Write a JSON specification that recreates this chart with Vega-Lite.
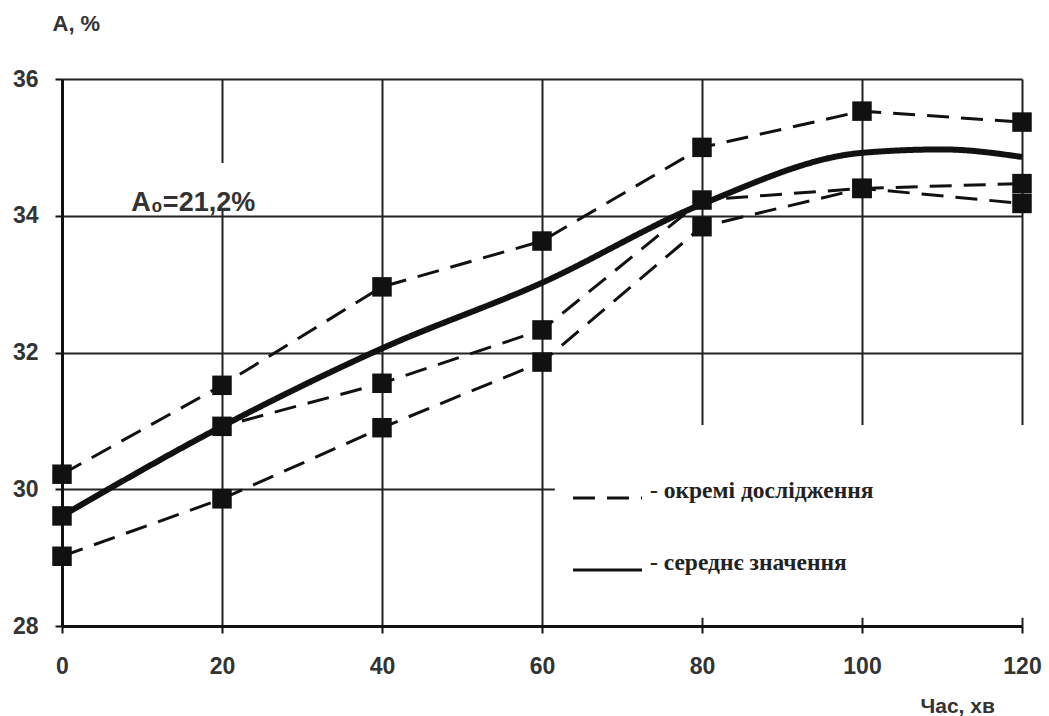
{
  "$schema": "https://vega.github.io/schema/vega-lite/v6.json",
  "width": 960,
  "height": 547,
  "autosize": {"type": "none"},
  "padding": {"left": 62, "top": 79, "right": 27, "bottom": 90},
  "background": "white",
  "config": {
    "view": {"stroke": null},
    "axis": {
      "grid": true,
      "gridColor": "#222",
      "gridWidth": 2,
      "gridOpacity": 1,
      "domainColor": "#111",
      "domainWidth": 3,
      "tickColor": "#111",
      "tickWidth": 2,
      "tickSize": 7,
      "labelFont": "Liberation Sans",
      "labelFontWeight": "bold",
      "labelFontSize": 23,
      "labelColor": "#333",
      "titleFont": "Liberation Sans",
      "titleFontWeight": "bold",
      "titleColor": "#333",
      "labelFlush": false,
      "format": "d"
    },
    "legend": {
      "orient": "none",
      "legendX": 509.5,
      "legendY": 383,
      "padding": 0,
      "rowPadding": 30,
      "symbolType": "stroke",
      "symbolSize": 4761,
      "symbolStrokeWidth": 3,
      "symbolStrokeColor": "#111",
      "labelFont": "Liberation Serif",
      "labelFontWeight": "bold",
      "labelFontSize": 23.5,
      "labelColor": "#222",
      "labelOffset": 6.5,
      "labelBaseline": "alphabetic",
      "labelLimit": 500
    }
  },
  "datasets": {
    "pts": [
      {"t": 0, "v": 30.22, "s": "A", "kind": "- окремі дослідження"},
      {"t": 20, "v": 31.52, "s": "A", "kind": "- окремі дослідження"},
      {"t": 40, "v": 32.96, "s": "A", "kind": "- окремі дослідження"},
      {"t": 60, "v": 33.63, "s": "A", "kind": "- окремі дослідження"},
      {"t": 80, "v": 35.0, "s": "A", "kind": "- окремі дослідження"},
      {"t": 100, "v": 35.53, "s": "A", "kind": "- окремі дослідження"},
      {"t": 120, "v": 35.37, "s": "A", "kind": "- окремі дослідження"},
      {"t": 0, "v": 29.02, "s": "B", "kind": "- окремі дослідження"},
      {"t": 20, "v": 29.86, "s": "B", "kind": "- окремі дослідження"},
      {"t": 40, "v": 30.9, "s": "B", "kind": "- окремі дослідження"},
      {"t": 60, "v": 31.86, "s": "B", "kind": "- окремі дослідження"},
      {"t": 80, "v": 33.84, "s": "B", "kind": "- окремі дослідження"},
      {"t": 100, "v": 34.4, "s": "B", "kind": "- окремі дослідження"},
      {"t": 120, "v": 34.18, "s": "B", "kind": "- окремі дослідження"},
      {"t": 0, "v": 29.61, "s": "C", "kind": "- окремі дослідження"},
      {"t": 20, "v": 30.92, "s": "C", "kind": "- окремі дослідження"},
      {"t": 40, "v": 31.55, "s": "C", "kind": "- окремі дослідження"},
      {"t": 60, "v": 32.33, "s": "C", "kind": "- окремі дослідження"},
      {"t": 80, "v": 34.23, "s": "C", "kind": "- окремі дослідження"},
      {"t": 100, "v": 34.4, "s": "C", "kind": "- окремі дослідження"},
      {"t": 120, "v": 34.47, "s": "C", "kind": "- окремі дослідження"},
      {"t": 0, "v": 29.61, "s": "M", "kind": "- середнє значення"},
      {"t": 20, "v": 30.92, "s": "M", "kind": "- середнє значення"},
      {"t": 40, "v": 32.06, "s": "M", "kind": "- середнє значення"},
      {"t": 60, "v": 33.02, "s": "M", "kind": "- середнє значення"},
      {"t": 80, "v": 34.17, "s": "M", "kind": "- середнє значення"},
      {"t": 100, "v": 34.92, "s": "M", "kind": "- середнє значення"},
      {"t": 110, "v": 34.97, "s": "M", "kind": "- середнє значення"},
      {"t": 120, "v": 34.86, "s": "M", "kind": "- середнє значення"}
    ]
  },
  "layer": [
    {
      "data": {"values": [{}]},
      "mark": {"type": "rect", "fill": "white"},
      "encoding": {
        "x": {"datum": 10, "type": "quantitative", "scale": {"domain": [0, 120], "nice": false},
          "axis": {"title": "Час, хв", "values": [0, 20, 40, 60, 80, 100, 120], "titleX": 858, "titleY": 86, "titleAlign": "left", "titleBaseline": "alphabetic", "titleFontSize": 21, "labelPadding": 22}},
        "x2": {"datum": 25},
        "y": {"datum": 34.07, "type": "quantitative", "scale": {"domain": [28, 36], "nice": false},
          "axis": {"title": "A, %", "values": [28, 30, 32, 34, 36], "titleAngle": 0, "titleX": -10, "titleY": -49, "titleAlign": "left", "titleBaseline": "alphabetic", "titleFontSize": 22, "labelPadding": 17}},
        "y2": {"datum": 34.77}
      }
    },
    {
      "data": {"values": [{}]},
      "mark": {"type": "rect", "fill": "white"},
      "encoding": {
        "x": {"datum": 61.6, "type": "quantitative"},
        "x2": {"datum": 121.5},
        "y": {"datum": 28.12, "type": "quantitative"},
        "y2": {"datum": 30.94}
      }
    },
    {
      "data": {"values": [{}]},
      "mark": {"type": "text", "text": "A₀=21,2%", "font": "Liberation Sans", "fontWeight": "bold", "fontSize": 27, "color": "#333", "align": "center", "baseline": "alphabetic"},
      "encoding": {
        "x": {"datum": 16.4, "type": "quantitative"},
        "y": {"datum": 34.07, "type": "quantitative"}
      }
    },
    {
      "data": {"name": "pts"},
      "transform": [{"filter": "datum.s !== 'M'"}],
      "mark": {"type": "line", "strokeWidth": 3, "color": "#111"},
      "encoding": {
        "x": {"field": "t", "type": "quantitative"},
        "y": {"field": "v", "type": "quantitative"},
        "detail": {"field": "s"},
        "strokeDash": {"field": "kind", "type": "nominal",
          "scale": {"domain": ["- окремі дослідження", "- середнє значення"], "range": [[22, 12], [1, 0]]},
          "legend": {"title": null,
            "symbolDashOffset": 0,
            "symbolStrokeWidth": 3,
            "encode": {"symbols": {"update": {"strokeDash": [{"test": "datum.value === '- окремі дослідження'", "value": [17, 9]}, {"value": [1, 0]}], "strokeWidth": {"value": 3}, "stroke": {"value": "#111"}}}}}}
      }
    },
    {
      "data": {"name": "pts"},
      "transform": [{"filter": "datum.s === 'M'"}],
      "mark": {"type": "line", "strokeWidth": 6, "color": "#111", "interpolate": "monotone"},
      "encoding": {
        "x": {"field": "t", "type": "quantitative"},
        "y": {"field": "v", "type": "quantitative"},
        "strokeDash": {"field": "kind", "type": "nominal"}
      }
    },
    {
      "data": {"name": "pts"},
      "transform": [{"filter": "datum.s !== 'M'"}],
      "mark": {"type": "point", "shape": "square", "filled": true, "size": 380, "color": "#111", "opacity": 1},
      "encoding": {
        "x": {"field": "t", "type": "quantitative"},
        "y": {"field": "v", "type": "quantitative"}
      }
    }
  ]
}
